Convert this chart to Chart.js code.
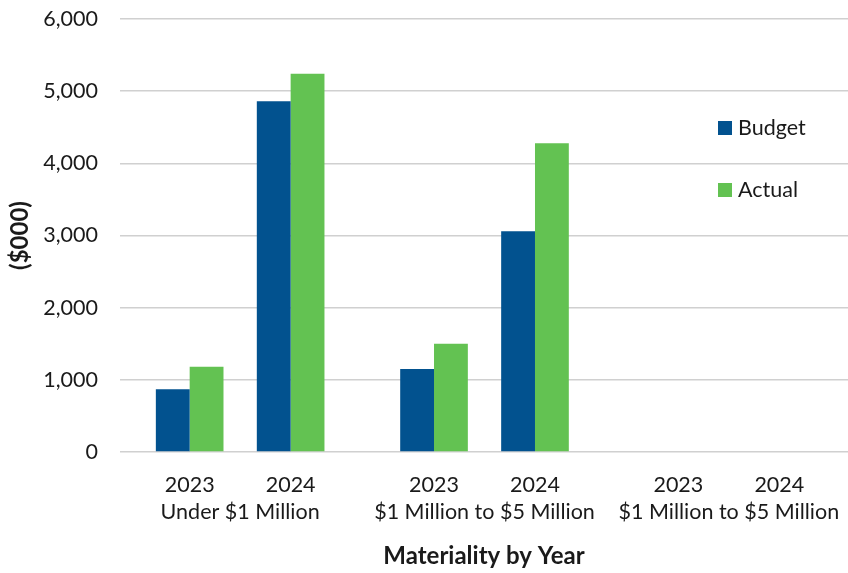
<!DOCTYPE html>
<html>
<head>
<meta charset="utf-8">
<script src="https://cdn.jsdelivr.net/npm/chart.js@4.4.1/dist/chart.umd.min.js"></script>
<style>
  html, body { margin: 0; padding: 0; background: #fff; }
  #wrap { width: 848px; height: 573px; }
</style>
</head>
<body>
<div id="wrap"><canvas id="chart"></canvas></div>
<script>
const years = ['2023', '2024', '2023', '2024', '2023', '2024'];
const groups = ['Under $1 Million', '$1 Million to $5 Million', '$1 Million to $5 Million'];
const budget = [870, 4860, 1150, 3060, null, null];
const actual = [1180, 5240, 1500, 4280, null, null];
const yTicks = [0, 1000, 2000, 3000, 4000, 5000, 6000];

const FONT = 'Lato, "Open Sans", sans-serif';
const TEXT = '#1a1a1a';
const SIZE = 21.5;
const groupStep = 2.42; // distance between first bars of two groups (in category units)

// x position of each category: two years per group, wider gap between groups
const xPos = years.map((y, i) => Math.floor(i / 2) * groupStep + (i % 2));

function points(values) {
  return values.map((v, i) => ({ x: xPos[i], y: v }));
}

// second row of x labels: group names centred under each pair
const groupLabels = {
  id: 'groupLabels',
  afterDraw(chart) {
    const x = chart.scales.x;
    const ctx = chart.ctx;
    ctx.save();
    ctx.font = SIZE + 'px ' + FONT;
    ctx.fillStyle = TEXT;
    ctx.textAlign = 'center';
    ctx.textBaseline = 'middle';
    groups.forEach((g, gi) => {
      const a = x.getPixelForValue(xPos[gi * 2]);
      const b = x.getPixelForValue(xPos[gi * 2 + 1]);
      ctx.fillText(g, (a + b) / 2, 512);
    });
    ctx.restore();
  }
};

// legend sitting inside the plot area on the right
const insideLegend = {
  id: 'insideLegend',
  afterDraw(chart) {
    const ctx = chart.ctx;
    ctx.save();
    ctx.font = SIZE + 'px ' + FONT;
    ctx.textBaseline = 'middle';
    ctx.textAlign = 'left';
    chart.data.datasets.forEach((ds, i) => {
      const cy = 128 + i * 62;
      ctx.fillStyle = ds.backgroundColor;
      ctx.fillRect(718, cy - 7, 14, 14);
      ctx.fillStyle = TEXT;
      ctx.fillText(ds.label, 738, cy);
    });
    ctx.restore();
  }
};

new Chart(document.getElementById('chart'), {
  type: 'bar',
  data: {
    datasets: [
      { label: 'Budget', data: points(budget), backgroundColor: '#02528F' },
      { label: 'Actual', data: points(actual), backgroundColor: '#63C252' }
    ]
  },
  options: {
    responsive: true,
    maintainAspectRatio: false,
    animation: false,
    categoryPercentage: 0.67,
    barPercentage: 1.0,
    layout: { padding: { top: 19, right: 0, left: 0, bottom: 0 } },
    plugins: {
      legend: { display: false },
      tooltip: { enabled: false }
    },
    scales: {
      x: {
        type: 'linear',
        offset: false,
        min: -0.69,
        max: 6.52,
        grid: { display: false },
        border: { display: false },
        afterBuildTicks(scale) {
          scale.ticks = xPos.map(v => ({ value: v }));
        },
        afterFit(scale) { scale.height = 121; },
        ticks: {
          autoSkip: false,
          maxRotation: 0,
          padding: 12,
          color: TEXT,
          font: { family: FONT, size: SIZE },
          callback: (value, index) => years[index]
        },
        title: {
          display: true,
          text: 'Materiality by Year',
          color: TEXT,
          font: { family: FONT, size: 24, weight: 'bold' },
          padding: { top: 0, bottom: 2 }
        }
      },
      y: {
        min: 0,
        max: 6000,
        afterBuildTicks(scale) {
          scale.ticks = yTicks.map(v => ({ value: v }));
        },
        afterFit(scale) {
          scale.width = 120;
          // tick padding is horizontal here, don't let it push the plot down
          scale.paddingTop = 0;
          scale.paddingBottom = 0;
        },
        grid: { color: '#d0d0d0', lineWidth: 1.5, drawTicks: false },
        border: { display: false },
        ticks: {
          padding: 22,
          color: TEXT,
          font: { family: FONT, size: SIZE },
          callback: v => v.toLocaleString('en-US')
        },
        title: {
          display: true,
          text: '($000)',
          color: TEXT,
          font: { family: FONT, size: 24, weight: 'bold' },
          padding: { top: 6, bottom: 0 }
        }
      }
    }
  },
  plugins: [groupLabels, insideLegend]
});
</script>
</body>
</html>
